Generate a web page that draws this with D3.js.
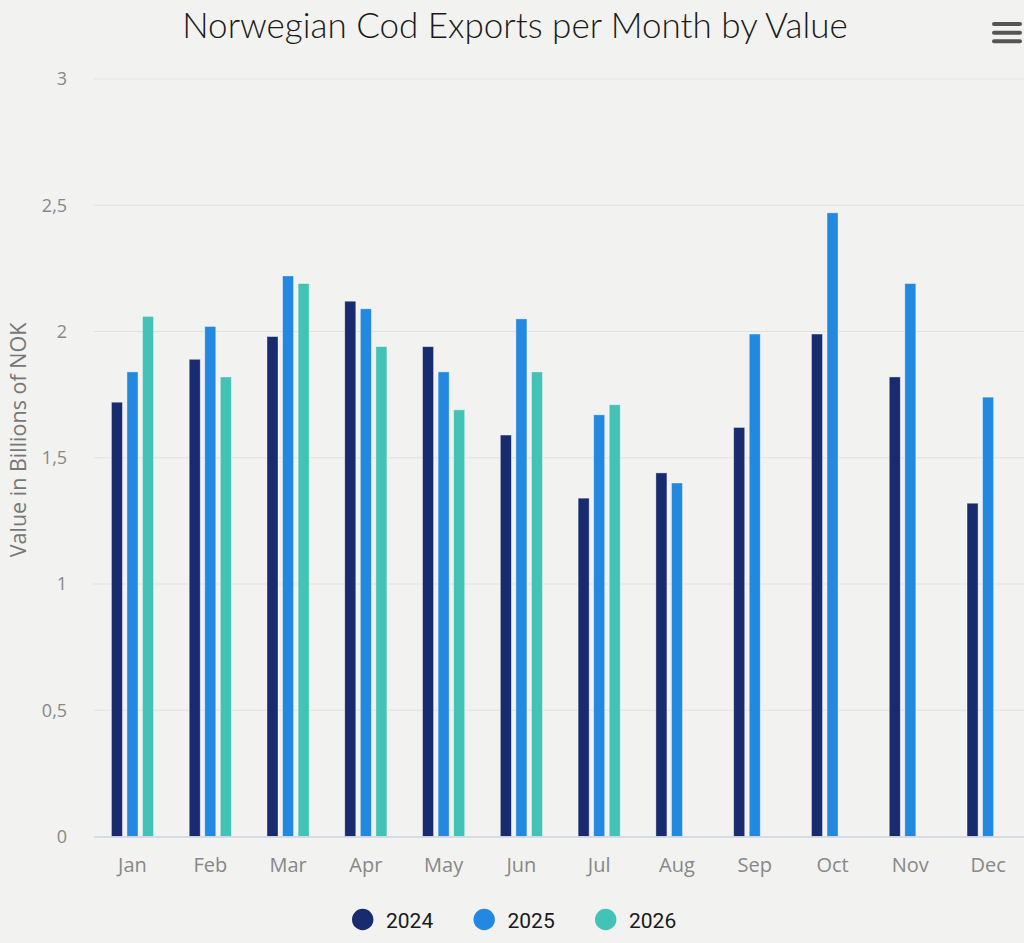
<!DOCTYPE html>
<html>
<head>
<meta charset="utf-8">
<script src="https://cdn.jsdelivr.net/npm/d3@7"></script>
<style>
  html, body { margin: 0; padding: 0; background: #f2f2f0; }
  svg { display: block; }
</style>
</head>
<body>
<div id="chart"></div>
<script>
"use strict";

// Data (billions of NOK)
var months = ["Jan", "Feb", "Mar", "Apr", "May", "Jun", "Jul", "Aug", "Sep", "Oct", "Nov", "Dec"];
var years = ["2024", "2025", "2026"];
var values2024 = [1.72, 1.89, 1.98, 2.12, 1.94, 1.59, 1.34, 1.44, 1.62, 1.99, 1.82, 1.32];
var values2025 = [1.84, 2.02, 2.22, 2.09, 1.84, 2.05, 1.67, 1.40, 1.99, 2.47, 2.19, 1.74];
var values2026 = [2.06, 1.82, 2.19, 1.94, 1.69, 1.84, 1.71, null, null, null, null, null];
var yTicks = [0, 0.5, 1, 1.5, 2, 2.5, 3];
var colors = ["#172b6e", "#2288e0", "#43c3b5"];

var width = 1024,
    height = 943;

var margin = { top: 79, right: -3, bottom: 106.5, left: 93.6 };

var svg = d3.select("#chart").append("svg")
  .attr("width", width)
  .attr("height", height);

svg.append("rect")
  .attr("width", width)
  .attr("height", height)
  .attr("fill", "#f2f2f0");

var seriesValues = [values2024, values2025, values2026];

var rows = months.map(function(m, i) {
  return {
    month: m,
    bars: years.map(function(y, j) {
      return { year: y, value: seriesValues[j][i], color: colors[j] };
    })
  };
});

var x0 = d3.scaleBand()
  .domain(months)
  .range([margin.left, width - margin.right])
  .paddingInner(0.4)
  .paddingOuter(0.2);

var x1 = d3.scaleBand()
  .domain(years)
  .range([0, x0.bandwidth()])
  .paddingInner(0.29)
  .paddingOuter(0.145);

var y = d3.scaleLinear()
  .domain([0, 3])
  .range([height - margin.bottom, margin.top]);

var nok = d3.formatLocale({ decimal: ",", thousands: " ", grouping: [3], currency: ["", " kr"] });
var fmt = nok.format(".1~f");

// Grid lines
svg.append("g")
  .selectAll("line")
  .data(yTicks.filter(function(d) { return d > 0; }))
  .enter().append("line")
    .attr("x1", margin.left)
    .attr("x2", width)
    .attr("y1", function(d) { return y(d); })
    .attr("y2", function(d) { return y(d); })
    .attr("stroke", "#e1e1df")
    .attr("stroke-width", 1.2);

// Y axis labels
var yAxis = svg.append("g")
  .attr("transform", "translate(" + margin.left + ",0)")
  .call(d3.axisLeft(y).tickValues(yTicks).tickFormat(fmt).tickSize(0).tickPadding(26.5));
yAxis.select(".domain").remove();
yAxis.selectAll("text")
  .attr("fill", "#888")
  .style("font-family", "'Open Sans', sans-serif")
  .style("font-size", "18px");

// Bars
var groups = svg.append("g")
  .selectAll("g")
  .data(rows)
  .enter().append("g")
    .attr("transform", function(d) { return "translate(" + x0(d.month) + ",0)"; });

groups.selectAll("rect")
  .data(function(d) { return d.bars.filter(function(b) { return b.value != null; }); })
  .enter().append("rect")
    .attr("x", function(d) { return x1(d.year); })
    .attr("y", function(d) { return y(d.value); })
    .attr("width", x1.bandwidth())
    .attr("height", function(d) { return y(0) - y(d.value); })
    .attr("fill", function(d) { return d.color; })
    .attr("stroke", "#ffffff")
    .attr("stroke-opacity", 0.5)
    .attr("stroke-width", 0.8);

// X axis
var xAxis = svg.append("g")
  .attr("transform", "translate(0," + y(0) + ")")
  .call(d3.axisBottom(x0).tickSize(0).tickPadding(21));
xAxis.select(".domain")
  .attr("stroke", "#ccd3e3")
  .attr("stroke-width", 1.5);
xAxis.selectAll("text")
  .attr("fill", "#888")
  .style("font-family", "'Open Sans', sans-serif")
  .style("font-size", "20px");

// Title
svg.append("text")
  .attr("x", 515)
  .attr("y", 37.5)
  .attr("text-anchor", "middle")
  .attr("fill", "#1a1a1a")
  .style("font-family", "Lato, sans-serif")
  .style("font-weight", 300)
  .style("font-size", "35px")
  .text("Norwegian Cod Exports per Month by Value");

// Y axis title
svg.append("text")
  .attr("transform", "translate(25.5,440) rotate(-90)")
  .attr("text-anchor", "middle")
  .attr("fill", "#777")
  .style("font-family", "'Open Sans', sans-serif")
  .style("font-size", "21.5px")
  .text("Value in Billions of NOK");

// Menu icon
svg.append("g")
  .selectAll("line")
  .data([24, 32.7, 41.3])
  .enter().append("line")
    .attr("x1", 994)
    .attr("x2", 1020)
    .attr("y1", function(d) { return d; })
    .attr("y2", function(d) { return d; })
    .attr("stroke", "#555")
    .attr("stroke-width", 4)
    .attr("stroke-linecap", "round");

// Legend
var legend = svg.append("g")
  .selectAll("g")
  .data(years)
  .enter().append("g")
    .attr("transform", function(d, i) { return "translate(" + (362.7 + i * 121.5) + ",919.5)"; });

legend.append("circle")
  .attr("r", 10.7)
  .attr("fill", function(d, i) { return colors[i]; });

legend.append("text")
  .attr("x", 23.3)
  .attr("y", 8.3)
  .attr("fill", "#1a1a1a")
  .style("font-family", "Roboto, sans-serif")
  .style("font-size", "21px")
  .text(function(d) { return d; });
</script>
</body>
</html>
